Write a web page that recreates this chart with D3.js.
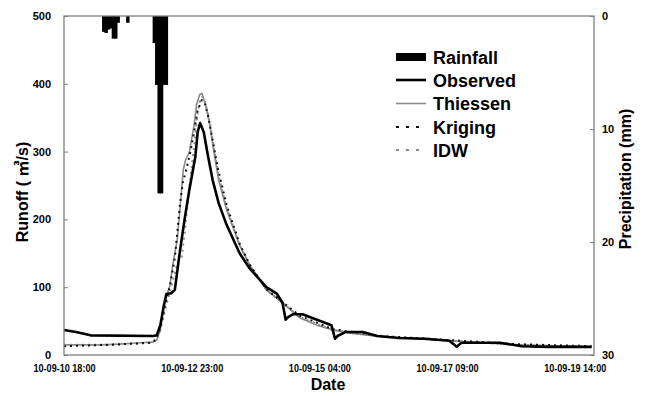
<!DOCTYPE html>
<html>
<head>
<meta charset="utf-8">
<script src="https://cdn.jsdelivr.net/npm/d3@7"></script>
<style>
  body { margin: 0; background: #fff; }
  text { font-family: "Liberation Sans", Arial, sans-serif; font-weight: bold; }
</style>
</head>
<body>
<div id="chart"></div>
<script>
// hours counted from 2010-09-10 18:00
const startTime = new Date(2010, 8, 10, 18);
const xTickHours = [0, 53, 106, 159, 212];

const rainHours = [16, 17, 18, 19, 20, 21, 22, 26, 37, 38, 39, 40, 41, 42];
const rainMm = [1.4, 1.5, 1.2, 1.1, 2.0, 2.0, 0.6, 0.6, 2.4, 6.1, 15.7, 15.7, 6.1, 6.1];

const obsHours = [0, 5, 11, 37, 38.5, 40, 41.5, 42.5, 44.5, 46, 48, 50, 52, 54.5, 55.5, 56.5, 58, 59.7, 61.7, 64.2, 67.5, 72.9, 77, 84, 88.2, 90.7, 92, 93, 95, 99, 105, 111, 112.5, 113.5, 117, 124, 130, 139, 150, 160, 163, 165, 171, 181, 190, 201, 219];
const obsFlow = [37, 34, 29, 28, 29, 44, 74, 90, 91, 96, 150, 199, 243, 292, 329, 342, 329, 295, 258, 224, 192, 150, 128, 100, 91, 77, 52, 56, 60, 60, 52, 44, 24, 28, 34, 34, 28, 25, 24, 21, 12, 18, 18, 18, 13, 12, 12];

const thiHours = [0, 15, 23, 31.5, 37, 38.5, 40, 41, 42.5, 44, 45, 47, 48, 49.5, 50.5, 52, 54, 55, 56.3, 57.2, 58.8, 60.5, 62.1, 64.2, 67.5, 72.9, 77, 84, 90.7, 97.8, 105, 111.5, 118.5, 132, 146, 160, 173.5, 187.5, 219];
const thiFlow = [15, 15, 16, 18, 19, 22, 37, 66, 86, 103, 130, 170, 209, 273, 288, 299, 339, 369, 384, 386, 369, 339, 302, 258, 214, 162, 133, 96, 77, 55, 44, 37, 32, 27, 24, 21, 18, 15, 12];

const kriHours = [0, 19, 35.5, 38, 40, 42, 44, 46, 47.2, 48, 49.3, 51, 52.2, 53.8, 55.5, 57.2, 58.4, 60, 61.7, 63.8, 67.5, 72.9, 77, 84, 90.7, 97.8, 111.5, 132, 160, 187.5, 219];
const kriFlow = [13, 15, 18, 22, 40, 74, 103, 143, 187, 218, 254, 277, 295, 325, 361, 376, 372, 350, 317, 276, 221, 164, 134, 97, 78, 58, 38, 28, 22, 16, 13];

const idwHours = [0, 19, 35.5, 38.5, 40.2, 42.3, 44.7, 47.2, 48.9, 50.1, 51.4, 53, 54.3, 55.5, 56.7, 57.6, 58.8, 60.5, 62.1, 64.2, 67.5, 72.9, 77, 84, 90.7, 97.8, 111.5, 132, 160, 187.5, 219];
const idwFlow = [15, 15, 18, 22, 40, 71, 103, 137, 145, 180, 229, 277, 317, 358, 379, 381, 370, 344, 308, 264, 217, 162, 133, 96, 77, 56, 37, 27, 21, 15, 12];

const runoffTicks = [0, 100, 200, 300, 400, 500];
const rainTicks = [0, 10, 20, 30];

const width = 645, height = 396;
const margin = { top: 16, right: 51, bottom: 41, left: 64 };
const plotW = width - margin.left - margin.right;
const plotH = height - margin.top - margin.bottom;

const hourMs = 3600 * 1000;
const toDate = h => new Date(startTime.getTime() + h * hourMs);

const x = d3.scaleTime().domain([toDate(0), toDate(220)]).range([0, plotW]);
const y = d3.scaleLinear().domain([0, 500]).range([plotH, 0]);
const yRain = d3.scaleLinear().domain([0, 30]).range([0, plotH]);

const svg = d3.select('#chart').append('svg')
  .attr('width', width).attr('height', height);
const g = svg.append('g').attr('transform', `translate(${margin.left},${margin.top})`);

// rainfall bars hanging from the top (a little overlap so no seams show)
g.selectAll('rect.rain').data(rainHours).enter().append('rect')
  .attr('class', 'rain')
  .attr('x', h => x(toDate(h)) - 0.5)
  .attr('width', h => x(toDate(h + 1)) - x(toDate(h)) + 1)
  .attr('y', 0)
  .attr('height', (h, i) => yRain(rainMm[i]))
  .attr('fill', '#000');

const series = [
  { hours: thiHours, flow: thiFlow, color: '#8a8a8a', w: 1.6, dash: null },
  { hours: idwHours, flow: idwFlow, color: '#8a8a8a', w: 2, dash: '2,4' },
  { hours: kriHours, flow: kriFlow, color: '#111', w: 2, dash: '2,4' },
  { hours: obsHours, flow: obsFlow, color: '#000', w: 2.6, dash: null }
];

const line = d3.line().x(d => x(toDate(d[0]))).y(d => y(d[1]));

series.forEach(s => {
  g.append('path')
    .datum(s.hours.map((h, i) => [h, s.flow[i]]))
    .attr('d', line)
    .attr('fill', 'none')
    .attr('stroke', s.color)
    .attr('stroke-width', s.w)
    .attr('stroke-dasharray', s.dash)
    .attr('stroke-linejoin', 'round');
});

// frame
g.append('rect').attr('width', plotW).attr('height', plotH)
  .attr('fill', 'none').attr('stroke', '#7f7f7f').attr('stroke-width', 1.3);

// axes
const yAxis = g.append('g')
  .call(d3.axisLeft(y).tickValues(runoffTicks).tickSize(-4).tickPadding(13));
yAxis.select('.domain').remove();
yAxis.selectAll('line').attr('stroke', '#7f7f7f');
yAxis.selectAll('text').attr('font-size', 11).attr('fill', '#000');

const yAxisR = g.append('g').attr('transform', `translate(${plotW},0)`)
  .call(d3.axisRight(yRain).tickValues(rainTicks).tickSize(-4).tickPadding(8));
yAxisR.select('.domain').remove();
yAxisR.selectAll('line').attr('stroke', '#7f7f7f');
yAxisR.selectAll('text').attr('font-size', 11).attr('fill', '#000');

const fmt = d3.timeFormat('%y-%m-%d %H:%M');
const xAxis = g.append('g').attr('transform', `translate(0,${plotH})`)
  .call(d3.axisBottom(x).tickValues(xTickHours.map(toDate)).tickFormat(fmt).tickSize(0).tickPadding(9));
xAxis.select('.domain').remove();
xAxis.selectAll('text')
  .attr('font-size', 11).attr('fill', '#000')
  .attr('textLength', 62).attr('lengthAdjust', 'spacingAndGlyphs');

// axis titles
svg.append('text').attr('x', margin.left + plotW / 2 - 1).attr('y', 390)
  .attr('text-anchor', 'middle').attr('font-size', 16).text('Date');

svg.append('text')
  .attr('transform', 'translate(28,192) rotate(-90)')
  .attr('text-anchor', 'middle').attr('font-size', 16)
  .style('font-family', '"Liberation Sans", "Noto Sans CJK KR", sans-serif')
  .text('Runoff ( \u33A5/s)');

svg.append('text')
  .attr('transform', 'translate(631,179) rotate(-90)')
  .attr('text-anchor', 'middle').attr('font-size', 16)
  .text('Precipitation (mm)');

// legend
const legendItems = ['Rainfall', 'Observed', 'Thiessen', 'Kriging', 'IDW'];
const legendY = [57, 80, 103.5, 127, 150];
const lg = svg.append('g');
legendItems.forEach((name, i) => {
  const cy = legendY[i];
  if (i === 0) {
    lg.append('rect').attr('x', 396).attr('y', cy - 4).attr('width', 30).attr('height', 8).attr('fill', '#000');
  } else {
    const s = series[[3, 0, 2, 1][i - 1]];
    lg.append('line').attr('x1', 396).attr('x2', 426).attr('y1', cy).attr('y2', cy)
      .attr('stroke', s.color).attr('stroke-width', s.w)
      .attr('stroke-dasharray', s.dash ? '3,7' : null);
  }
  lg.append('text').attr('x', 433).attr('y', cy + 6.5).attr('font-size', 18).text(name);
});
</script>
</body>
</html>
